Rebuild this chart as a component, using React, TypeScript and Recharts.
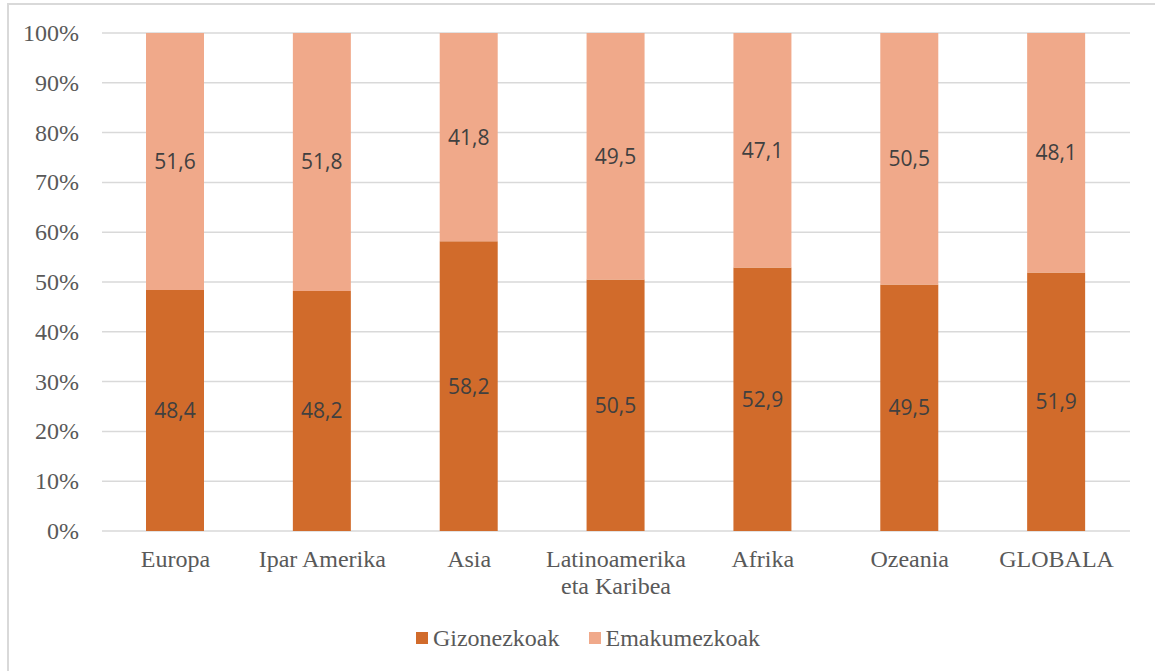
import { Bar, BarChart, CartesianGrid, LabelList, Legend, XAxis, YAxis } from "recharts";

const regions = [
  "Europa",
  "Ipar Amerika",
  "Asia",
  "Latinoamerika\neta Karibea",
  "Afrika",
  "Ozeania",
  "GLOBALA",
];
const gizonezkoak = [48.4, 48.2, 58.2, 50.5, 52.9, 49.5, 51.9];
const emakumezkoak = [51.6, 51.8, 41.8, 49.5, 47.1, 50.5, 48.1];
const yTicks = [0, 10, 20, 30, 40, 50, 60, 70, 80, 90, 100];

const DARK = "#D16B2B";
const LIGHT = "#F0A98A";
const SERIF = "Liberation Serif";
const SANS = "Open Sans";

const data = regions.map((region, i) => ({
  region,
  gizonezkoak: gizonezkoak[i],
  emakumezkoak: emakumezkoak[i],
}));

const fmt = (v: any) => Number(v).toFixed(1).replace(".", ",");

function RegionTick({ x, y, payload }: any) {
  const lines = String(payload.value).split("\n");
  return (
    <text x={x} y={y} textAnchor="middle" fill="#595959" style={{ fontFamily: SERIF, fontSize: 24 }}>
      {lines.map((line, i) => (
        <tspan key={i} x={x} dy={i === 0 ? 36 : 27}>
          {line}
        </tspan>
      ))}
    </text>
  );
}

function PercentTick({ x, y, payload }: any) {
  return (
    <text
      x={x}
      y={y}
      dy={8}
      textAnchor="end"
      fill="#595959"
      style={{ fontFamily: SERIF, fontSize: 24 }}
    >
      {`${payload.value}%`}
    </text>
  );
}

function LegendBox() {
  const item = (color: string, label: string) => (
    <div style={{ display: "flex", alignItems: "center" }}>
      <span style={{ width: 12, height: 12, background: color, marginRight: 5 }} />
      <span style={{ fontFamily: SERIF, fontSize: 24, color: "#595959" }}>{label}</span>
    </div>
  );
  return (
    <div
      style={{
        display: "flex",
        justifyContent: "center",
        alignItems: "center",
        gap: 29,
        height: 70,
        paddingTop: 4,
        paddingLeft: 21,
        boxSizing: "border-box",
        fontFamily: SERIF,
      }}
    >
      {item(DARK, "Gizonezkoak")}
      {item(LIGHT, "Emakumezkoak")}
    </div>
  );
}

export default function App() {
  return (
    <div
      style={{
        position: "absolute",
        left: 0,
        top: 0,
        width: 1155,
        height: 671,
        background: "#fff",
        overflow: "hidden",
      }}
    >
      <div
        style={{
          position: "absolute",
          left: 7,
          top: 3,
          width: 1200,
          height: 720,
          border: "2px solid #d9d9d9",
        }}
      />
      <BarChart
        width={1155}
        height={671}
        data={data}
        margin={{ top: 33, right: 25, left: 0, bottom: 0 }}
        barSize={58}
      >
        <CartesianGrid vertical={false} stroke="#d9d9d9" strokeWidth={1.5} />
        <XAxis
          dataKey="region"
          height={70}
          axisLine={false}
          tickLine={false}
          tickSize={0}
          tickMargin={0}
          interval={0}
          tick={<RegionTick />}
        />
        <YAxis
          width={102}
          domain={[0, 100]}
          ticks={yTicks}
          axisLine={false}
          tickLine={false}
          tickSize={0}
          tickMargin={23}
          interval={0}
          tick={<PercentTick />}
        />
        <Legend
          verticalAlign="bottom"
          content={<LegendBox />}
          wrapperStyle={{ left: 0, width: 1155, height: 70 }}
        />
        <Bar dataKey="gizonezkoak" name="Gizonezkoak" stackId="a" fill={DARK} isAnimationActive={false}>
          <LabelList
            dataKey="gizonezkoak"
            position="center"
            formatter={fmt}
            fill="#404040"
            fontFamily={SANS}
            fontSize={21}
          />
        </Bar>
        <Bar dataKey="emakumezkoak" name="Emakumezkoak" stackId="a" fill={LIGHT} isAnimationActive={false}>
          <LabelList
            dataKey="emakumezkoak"
            position="center"
            formatter={fmt}
            fill="#404040"
            fontFamily={SANS}
            fontSize={21}
          />
        </Bar>
      </BarChart>
    </div>
  );
}
